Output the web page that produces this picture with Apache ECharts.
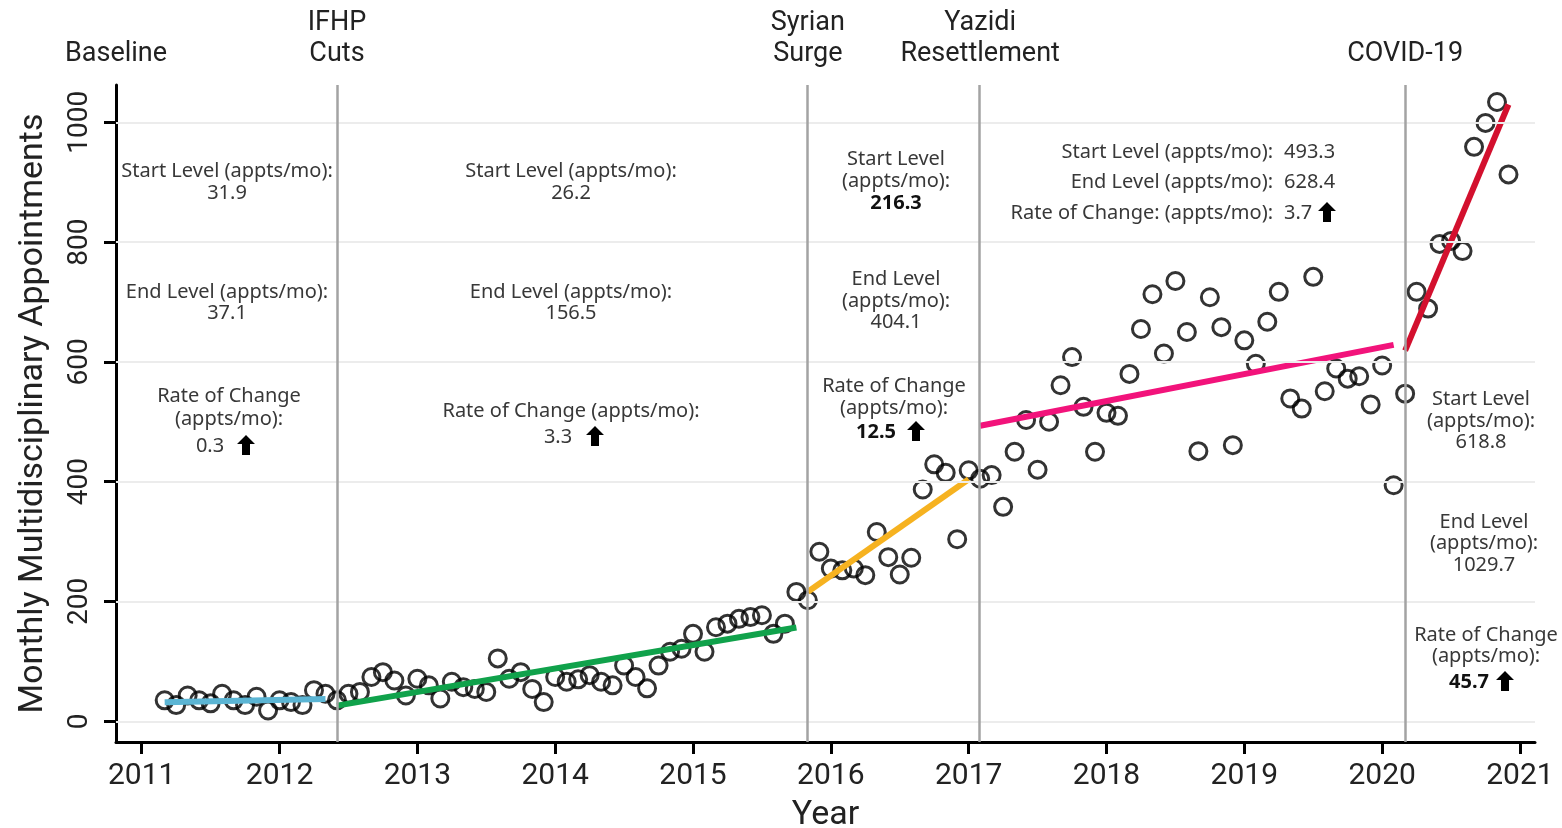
<!DOCTYPE html>
<html><head><meta charset="utf-8">
<script src="https://cdn.jsdelivr.net/npm/echarts@6.0.0/dist/echarts.min.js"></script>
<style>html,body{margin:0;padding:0;background:#fff}#c{width:1562px;height:828px}</style>
</head><body><div id="c"></div>
<script>
// ---- data ----
const firstMonth = '2011-03';
const appointments = [
  35, 27, 43, 35, 30, 46, 35, 27, 41, 18, 35, 32, 27, 52, 46, 35, 46, 49, 74, 82,
  68, 43, 71, 60, 38, 66, 57, 54, 49, 105, 71, 82, 54, 32, 74, 66, 70, 77, 66, 60,
  93, 74, 55, 93, 116, 121, 146, 116, 157, 163, 171, 174, 177, 146, 163, 216, 202, 283, 255, 252,
  255, 244, 316, 274, 245, 273, 387, 429, 415, 304, 419, 405, 411, 358, 450, 503, 420, 500, 561, 608,
  525, 450, 515, 510, 580, 655, 713, 614, 735, 650, 451, 708, 658, 461, 636, 597, 667, 717, 539, 522,
  742, 551, 589, 572, 576, 529, 594, 394, 547, 717, 689, 797, 802, 785, 959, 999, 1034, 913
];
const phaseNames = ['Baseline', 'IFHP\nCuts', 'Syrian\nSurge', 'Yazidi\nResettlement', 'COVID-19'];
const phaseStart = ['2011-03', '2012-06', '2015-11', '2017-02', '2020-03'];
const phaseEnd   = ['2012-05', '2015-10', '2017-01', '2020-02', '2020-12'];
const startLevels = [31.9, 26.2, 216.3, 493.3, 618.8];
const endLevels   = [37.1, 156.5, 404.1, 628.4, 1029.7];
const rates       = [0.3, 3.3, 12.5, 3.7, 45.7];
const phaseColors = ['#5BB5D4', '#10A24B', '#F6B220', '#F2137B', '#D3102E'];
const yearTicks = [2011, 2012, 2013, 2014, 2015, 2016, 2017, 2018, 2019, 2020, 2021];
const valueTicks = [0, 200, 400, 600, 800, 1000];

// ---- helpers ----
function monthToYear(s) { const p = s.split('-').map(Number); return p[0] + (p[1] - 1) / 12; }
const t0 = monthToYear(firstMonth);
const points = appointments.map((v, i) => [t0 + i / 12, v]);

const FONT_AX = 'Roboto, "DejaVu Sans", sans-serif';
const FONT_AN = '"Noto Sans", "Open Sans", sans-serif';

const series = [];
series.push({
  type: 'line', data: [], silent: true, z: 1,
  markLine: { silent: true, symbol: 'none', label: { show: false },
    lineStyle: { color: '#ececec', width: 2, type: 'solid' },
    data: valueTicks.map(v => ({ yAxis: v })) }
});
series.push({
  type: 'line', data: [], silent: true, z: 2,
  markLine: { silent: true, symbol: 'none', label: { show: false },
    lineStyle: { color: '#a3a3a3', width: 2.5, type: 'solid' },
    data: phaseStart.slice(1).map(s => ({ xAxis: monthToYear(s) })) }
});
series.push({
  type: 'scatter', data: points, z: 3, symbol: 'circle', symbolSize: 17,
  itemStyle: { color: 'rgba(0,0,0,0)', borderColor: '#000', borderWidth: 3 }
});
phaseStart.forEach((s, k) => {
  series.push({
    type: 'line', z: 4, showSymbol: false, silent: true,
    data: [[monthToYear(s), startLevels[k]], [monthToYear(phaseEnd[k]), endLevels[k]]],
    lineStyle: { color: phaseColors[k], width: 6, cap: 'butt' }
  });
});

const chart = echarts.init(document.getElementById('c'), null, { renderer: 'canvas' });
chart.setOption({
  animation: false,
  backgroundColor: '#fff',
  grid: { left: 116, right: 27, top: 85, bottom: 86, containLabel: false, outerBoundsMode: 'none' },
  xAxis: {
    type: 'value', min: 2010.8135, max: 2021.109,
    name: 'Year', nameLocation: 'middle', nameGap: 56,
    nameTextStyle: { fontSize: 34, color: '#222', fontFamily: FONT_AX },
    axisLine: { onZero: false, lineStyle: { color: '#000', width: 3 } },
    axisTick: { show: true, length: 12, lineStyle: { color: '#000', width: 3 }, customValues: yearTicks },
    axisLabel: { customValues: yearTicks, fontSize: 30, color: '#222', fontFamily: FONT_AX, margin: 19,
      formatter: v => String(Math.round(v)) },
    splitLine: { show: false }
  },
  yAxis: {
    type: 'value', min: -34.6, max: 1062.3,
    name: 'Monthly Multidisciplinary Appointments', nameLocation: 'middle', nameGap: 66,
    nameTextStyle: { fontSize: 34, color: '#222', fontFamily: FONT_AX },
    axisLine: { show: true, onZero: false, lineStyle: { color: '#000', width: 3 } },
    axisTick: { show: true, length: 12, lineStyle: { color: '#000', width: 3 }, customValues: valueTicks },
    axisLabel: { customValues: valueTicks, rotate: 90, fontSize: 28, color: '#222', fontFamily: FONT_AX, margin: 22,
      formatter: v => String(Math.round(v)) },
    splitLine: { show: false }
  },
  series: series
});

// ---- annotations ----
const g = [];
function px(x, y) { return chart.convertToPixel({ gridIndex: 0 }, [x, y]); }
function label(x, y, text, o) {
  o = o || {};
  g.push({ type: 'text', x: x, y: y, z: 20, silent: true,
    style: { text: text, fontSize: o.size || 20, fontFamily: o.font || FONT_AN, fontWeight: o.weight || 'normal',
      fill: o.color || '#383838', align: o.align || 'center', verticalAlign: 'middle' } });
}
function arrow(cx, cy) {
  g.push({ type: 'polygon', z: 20, silent: true, x: cx, y: cy,
    shape: { points: [[0, -10], [9, -1], [4, -1], [4, 10], [-4, 10], [-4, -1], [-9, -1]] },
    style: { fill: '#000' } });
}
const gridLeft = 116;
phaseNames.forEach((n, k) => {
  const x = k === 0 ? gridLeft : px(monthToYear(phaseStart[k]), 0)[0];
  const lines = n.split('\n');
  lines.forEach((ln, j) => {
    const y = 54 - (lines.length - 1 - j) * 31;
    label(x, y, ln, { size: 27, font: FONT_AX, color: '#222' });
  });
});
// Baseline block
label(227, 171, 'Start Level (appts/mo):');
label(227, 193, startLevels[0].toFixed(1));
label(227, 292, 'End Level (appts/mo):');
label(227, 313, endLevels[0].toFixed(1));
label(229, 396, 'Rate of Change');
label(229, 419, '(appts/mo):');
label(210, 446, rates[0].toFixed(1)); arrow(246, 445);
// IFHP block
label(571, 171, 'Start Level (appts/mo):');
label(571, 193, startLevels[1].toFixed(1));
label(571, 292, 'End Level (appts/mo):');
label(571, 313, endLevels[1].toFixed(1));
label(571, 411, 'Rate of Change (appts/mo):');
label(558, 437, rates[1].toFixed(1)); arrow(595, 436);
// Syrian block
label(896, 159, 'Start Level');
label(896, 181, '(appts/mo):');
label(896, 203, startLevels[2].toFixed(1), { weight: 'bold', color: '#111' });
label(896, 279, 'End Level');
label(896, 301, '(appts/mo):');
label(896, 322, endLevels[2].toFixed(1));
label(894, 386, 'Rate of Change');
label(894, 408, '(appts/mo):');
label(876, 432, rates[2].toFixed(1), { weight: 'bold', color: '#111' }); arrow(916, 431);
// Yazidi block
label(1273, 152, 'Start Level (appts/mo):', { align: 'right' });
label(1284, 152, startLevels[3].toFixed(1), { align: 'left' });
label(1273, 182, 'End Level (appts/mo):', { align: 'right' });
label(1284, 182, endLevels[3].toFixed(1), { align: 'left' });
label(1273, 213, 'Rate of Change: (appts/mo):', { align: 'right' });
label(1284, 213, rates[3].toFixed(1), { align: 'left' }); arrow(1327, 212);
// COVID block
label(1481, 399, 'Start Level');
label(1481, 421, '(appts/mo):');
label(1481, 442, startLevels[4].toFixed(1));
label(1484, 522, 'End Level');
label(1484, 543, '(appts/mo):');
label(1484, 565, endLevels[4].toFixed(1));
label(1486, 635, 'Rate of Change');
label(1486, 656, '(appts/mo):');
label(1469, 682, rates[4].toFixed(1), { weight: 'bold', color: '#111' }); arrow(1505, 681);

chart.setOption({ graphic: g });
</script>
</body></html>
